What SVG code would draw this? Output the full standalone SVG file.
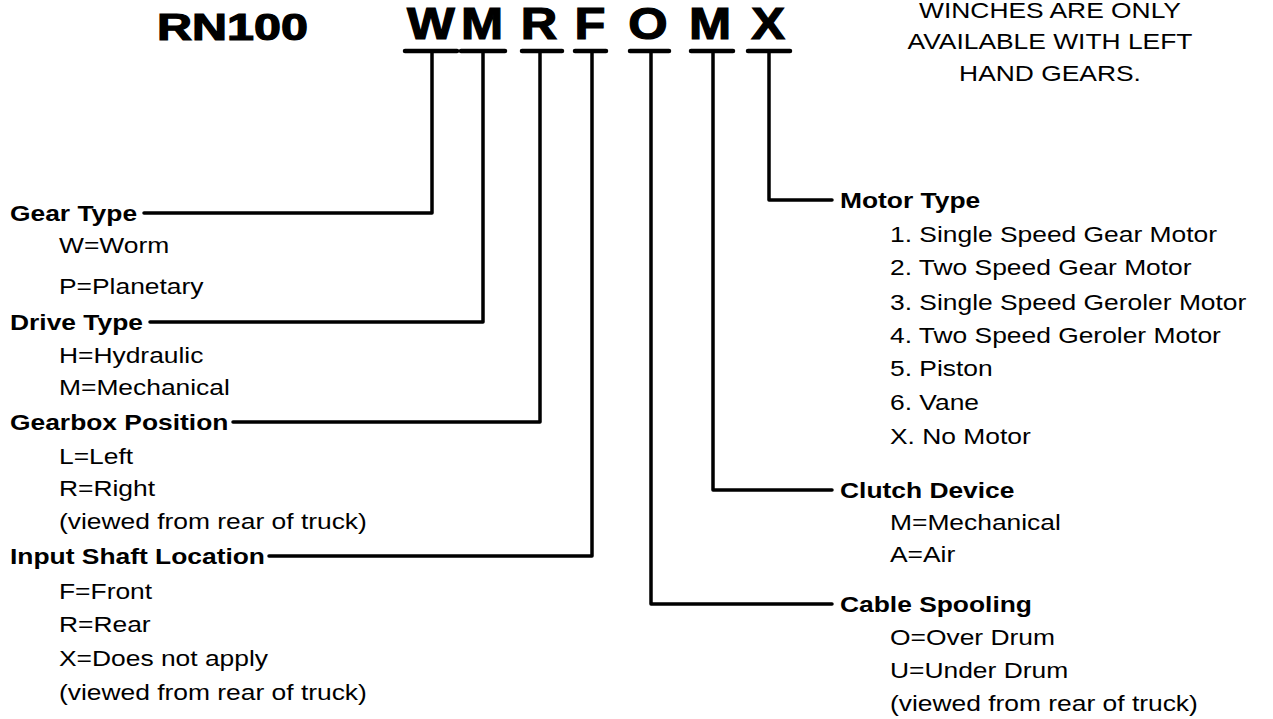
<svg xmlns="http://www.w3.org/2000/svg" width="1273" height="719" viewBox="0 0 1273 719">
<style>
.t{font-family:"Liberation Sans",Arial,sans-serif;fill:#000}
.h{font-size:22px;font-weight:bold}
.n{font-size:22px}
.big{font-size:44px;font-weight:bold;stroke:#000;stroke-width:1.2}
.c{fill:none;stroke:#000;stroke-width:3.5;stroke-linecap:round;stroke-linejoin:round}
.u{fill:none;stroke:#000;stroke-width:4.5;stroke-linecap:round}
</style>
<rect width="1273" height="719" fill="#fff"/>
<g id="title">
<text class="t" x="157" y="40" font-size="37" font-weight="bold" stroke="#000" stroke-width="1.2" textLength="151" lengthAdjust="spacingAndGlyphs">RN100</text>
</g>
<g id="code" class="t big" text-anchor="middle">
<text transform="translate(431,39) scale(1.15,1)">W</text>
<text transform="translate(482,39) scale(1.15,1)">M</text>
<text transform="translate(539,39) scale(1.15,1)">R</text>
<text transform="translate(590,39) scale(1.15,1)">F</text>
<text transform="translate(648,39) scale(1.15,1)">O</text>
<text transform="translate(710,39) scale(1.15,1)">M</text>
<text transform="translate(768,39) scale(1.15,1)">X</text>
</g>
<g id="note" class="t n" text-anchor="middle">
<text transform="translate(1050,18) scale(1.2,1)">WINCHES ARE ONLY</text>
<text transform="translate(1050,49) scale(1.2,1)">AVAILABLE WITH LEFT</text>
<text transform="translate(1050,81) scale(1.2,1)">HAND GEARS.</text>
</g>
<g id="connectors">
<line class="u" x1="405" y1="51" x2="457" y2="51"/>
<line class="u" x1="461" y1="51" x2="505" y2="51"/>
<line class="u" x1="522" y1="51" x2="562" y2="51"/>
<line class="u" x1="575" y1="51" x2="606" y2="51"/>
<line class="u" x1="630" y1="51" x2="669" y2="51"/>
<line class="u" x1="691" y1="51" x2="733" y2="51"/>
<line class="u" x1="748" y1="51" x2="790" y2="51"/>
<polyline class="c" points="432,51 432,213 144,213"/>
<polyline class="c" points="483,51 483,322 150,322"/>
<polyline class="c" points="540,51 540,422 233,422"/>
<polyline class="c" points="592,51 592,556 269,556"/>
<polyline class="c" points="769,51 769,200 832,200"/>
<polyline class="c" points="713,51 713,490 832,490"/>
<polyline class="c" points="651,51 651,604 832,604"/>
</g>
<g id="gear-type" class="t">
<text class="h" transform="translate(10,221) scale(1.2,1)">Gear Type</text>
<text class="n" transform="translate(59,253) scale(1.2,1)">W=Worm</text>
<text class="n" transform="translate(59,294) scale(1.2,1)">P=Planetary</text>
</g>
<g id="drive-type" class="t">
<text class="h" transform="translate(10,330) scale(1.2,1)">Drive Type</text>
<text class="n" transform="translate(59,363) scale(1.2,1)">H=Hydraulic</text>
<text class="n" transform="translate(59,395) scale(1.2,1)">M=Mechanical</text>
</g>
<g id="gearbox-position" class="t">
<text class="h" transform="translate(10,430) scale(1.2,1)">Gearbox Position</text>
<text class="n" transform="translate(59,464) scale(1.2,1)">L=Left</text>
<text class="n" transform="translate(59,496) scale(1.2,1)">R=Right</text>
<text class="n" transform="translate(59,529) scale(1.2,1)">(viewed from rear of truck)</text>
</g>
<g id="input-shaft" class="t">
<text class="h" transform="translate(10,564) scale(1.2,1)">Input Shaft Location</text>
<text class="n" transform="translate(59,599) scale(1.2,1)">F=Front</text>
<text class="n" transform="translate(59,632) scale(1.2,1)">R=Rear</text>
<text class="n" transform="translate(59,666) scale(1.2,1)">X=Does not apply</text>
<text class="n" transform="translate(59,700) scale(1.2,1)">(viewed from rear of truck)</text>
</g>
<g id="motor-type" class="t">
<text class="h" transform="translate(840,208) scale(1.2,1)">Motor Type</text>
<text class="n" transform="translate(890,242) scale(1.2,1)">1. Single Speed Gear Motor</text>
<text class="n" transform="translate(890,275) scale(1.2,1)">2. Two Speed Gear Motor</text>
<text class="n" transform="translate(890,310) scale(1.2,1)">3. Single Speed Geroler Motor</text>
<text class="n" transform="translate(890,343) scale(1.2,1)">4. Two Speed Geroler Motor</text>
<text class="n" transform="translate(890,376) scale(1.2,1)">5. Piston</text>
<text class="n" transform="translate(890,410) scale(1.2,1)">6. Vane</text>
<text class="n" transform="translate(890,444) scale(1.2,1)">X. No Motor</text>
</g>
<g id="clutch-device" class="t">
<text class="h" transform="translate(840,498) scale(1.2,1)">Clutch Device</text>
<text class="n" transform="translate(890,530) scale(1.2,1)">M=Mechanical</text>
<text class="n" transform="translate(890,562) scale(1.2,1)">A=Air</text>
</g>
<g id="cable-spooling" class="t">
<text class="h" transform="translate(840,612) scale(1.2,1)">Cable Spooling</text>
<text class="n" transform="translate(890,645) scale(1.2,1)">O=Over Drum</text>
<text class="n" transform="translate(890,678) scale(1.2,1)">U=Under Drum</text>
<text class="n" transform="translate(890,711) scale(1.2,1)">(viewed from rear of truck)</text>
</g>
</svg>
